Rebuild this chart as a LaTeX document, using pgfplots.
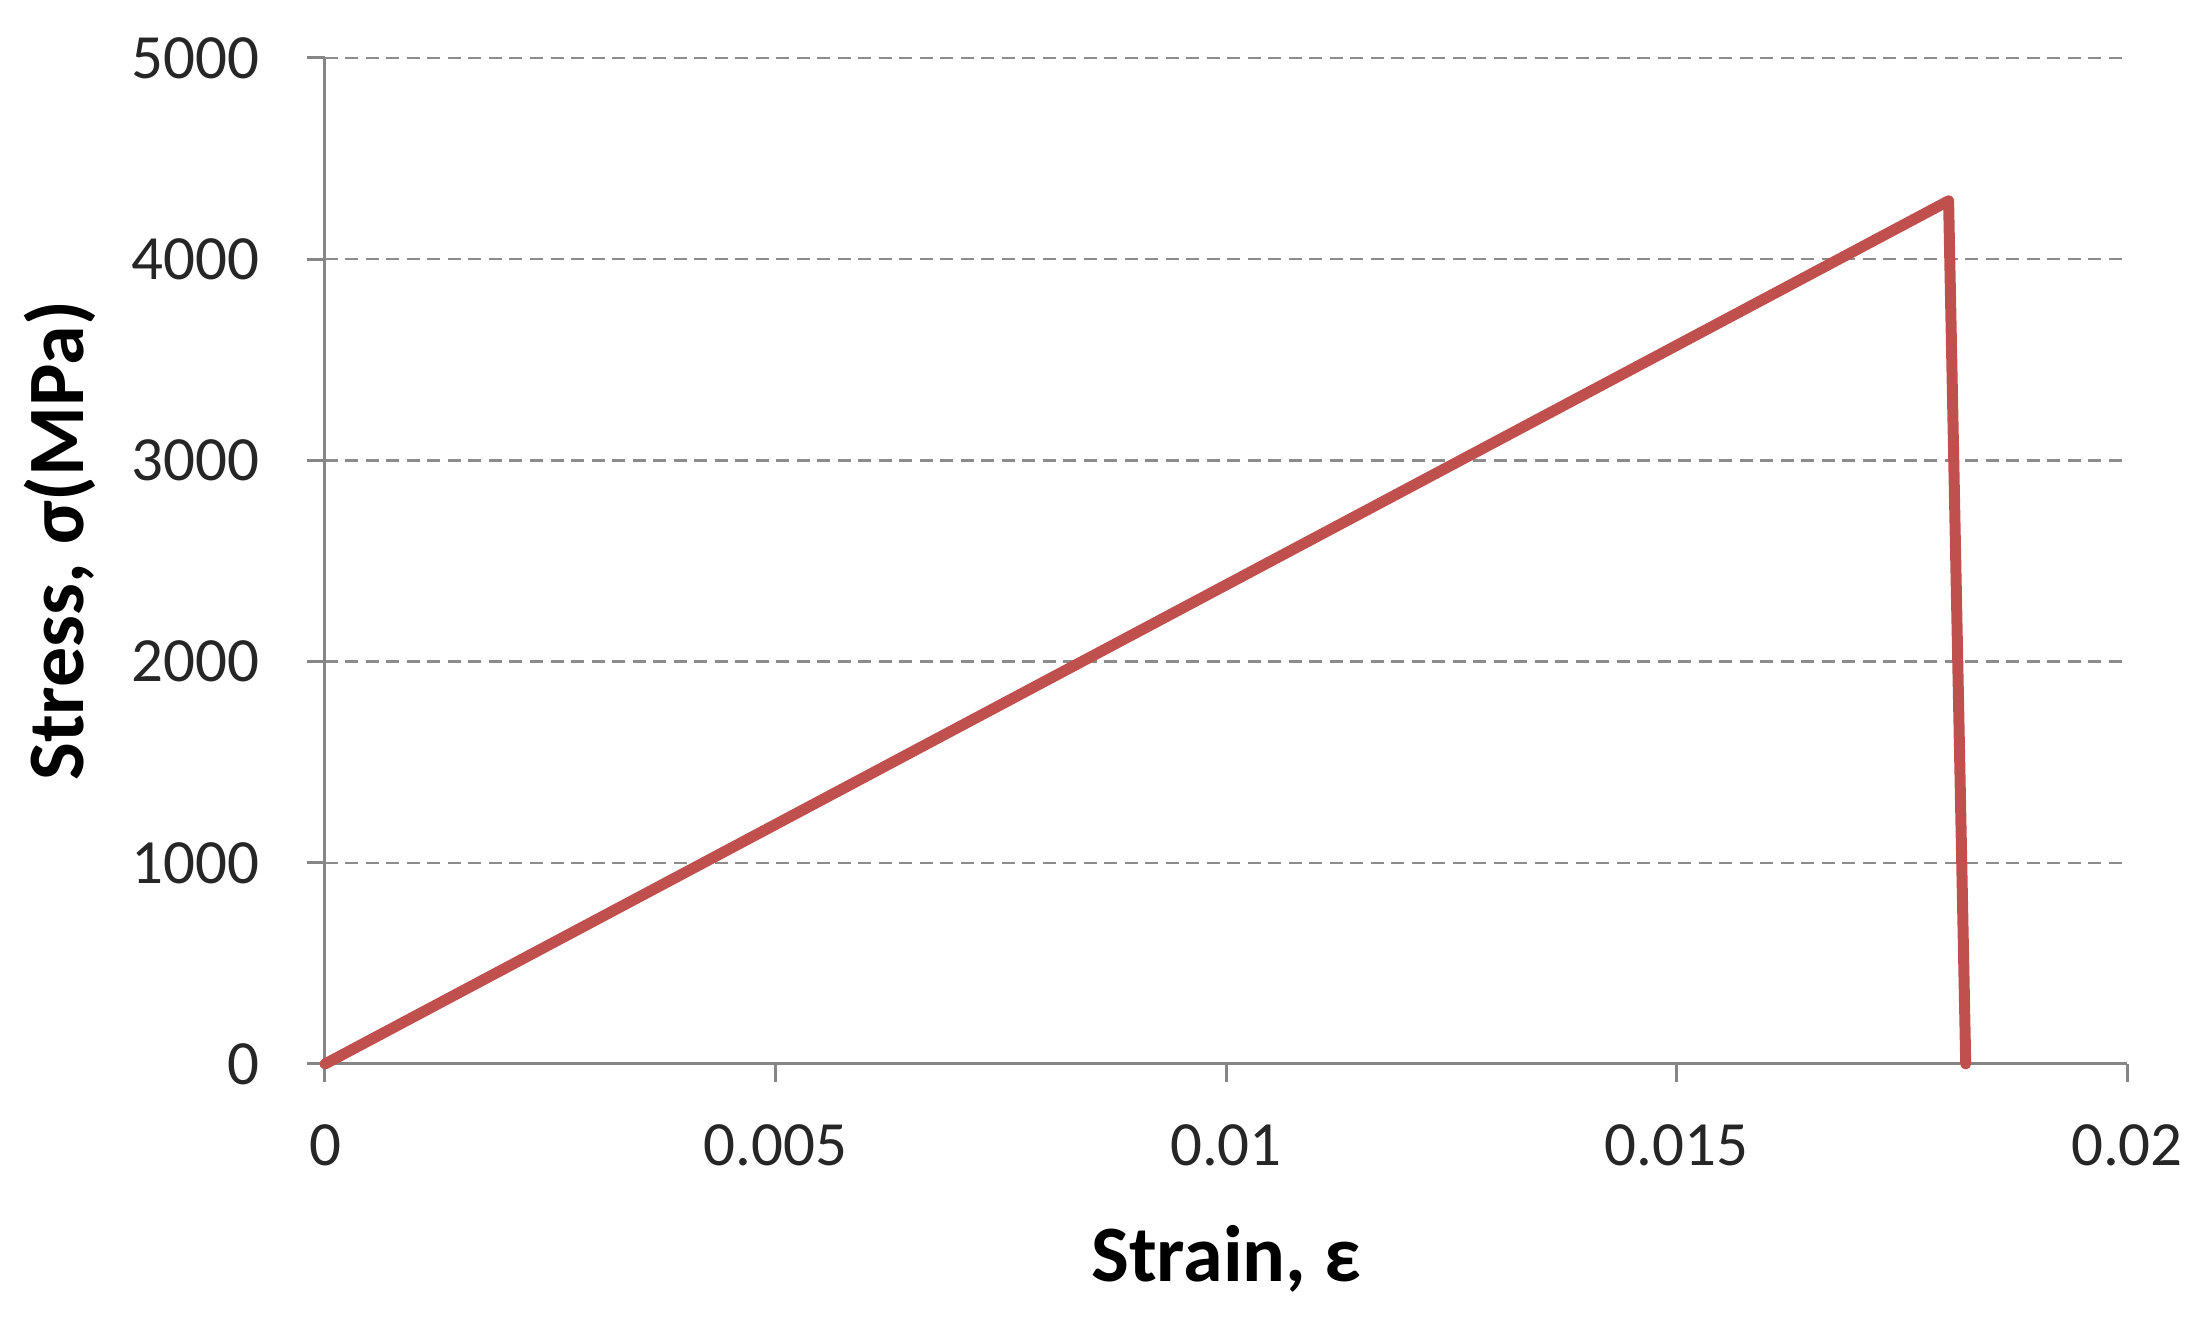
\documentclass[border=0pt]{standalone}
\usepackage{fontspec}
\setmainfont{Carlito}
\usepackage{pgfplots}
\pgfplotsset{compat=1.18}
\usetikzlibrary{calc}
\definecolor{lineRed}{HTML}{C0504D}
\definecolor{axisGray}{HTML}{868686}
\definecolor{gridGray}{HTML}{8C8C8C}
\definecolor{tickInk}{HTML}{262626}

\begin{document}
\begin{tikzpicture}
  \begin{axis}[
    scale only axis,
    width=360.4pt, height=201.2pt,
    xmin=0, xmax=0.02,
    ymin=0, ymax=5000,
    xtick={0,0.005,0.01,0.015,0.02},
    ytick={0,1000,2000,3000,4000,5000},
    scaled x ticks=false,
    scaled y ticks=false,
    axis x line=bottom, axis y line=left,
    axis line style={axisGray, line width=0.6pt, -},
    tick style={axisGray, line width=0.6pt},
    tick align=outside,
    major tick length=3.6pt,
    ymajorgrids=true,
    major grid style={gridGray, line width=0.45pt, dash pattern=on 2.6pt off 1.5pt},
    /pgf/number format/assume math mode=true,
    /pgf/number format/1000 sep={},
    xticklabel style={/pgf/number format/fixed, /pgf/number format/precision=3,
      font=\fontsize{12.6pt}{15pt}\selectfont, text=tickInk, yshift=-5pt},
    yticklabel style={font=\fontsize{12.6pt}{15pt}\selectfont, text=tickInk, xshift=-6pt},
    xlabel={\bfseries Strain, ε},
    ylabel={\bfseries Stress, σ(MPa)},
    every axis x label/.style={at={(axis description cs:0.5,0)}, anchor=center,
      yshift=-39pt, font=\fontsize{16pt}{19pt}\selectfont},
    every axis y label/.style={at={(axis description cs:-0.147,0.52)}, anchor=center,
      rotate=90, font=\fontsize{16pt}{19pt}\selectfont},
    clip=false,
  ]
    % stress-strain curve: linear to failure, then sudden drop
    \addplot[lineRed, line width=2.2pt, line join=round, line cap=round]
      coordinates {(0,0) (0.01802,4290) (0.01821,0)};
  \end{axis}
  \pgfresetboundingbox
  \path ($(current axis.south west)+(-65pt,-50.6pt)$) rectangle
        ($(current axis.north east)+(15.6pt,11.6pt)$);
\end{tikzpicture}
\end{document}
